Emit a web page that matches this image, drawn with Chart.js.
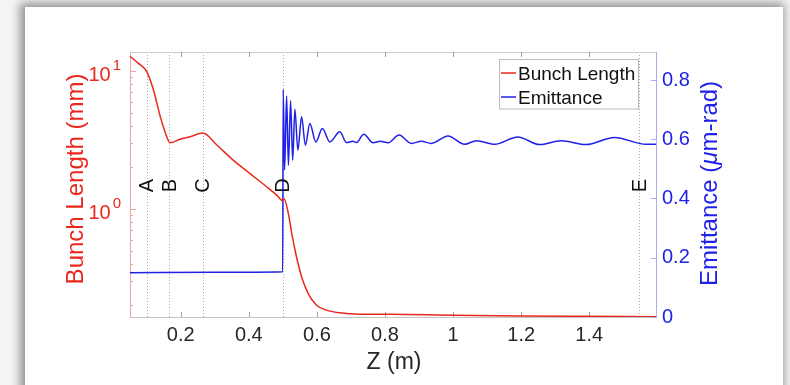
<!DOCTYPE html>
<html lang="en">
<head>
<meta charset="UTF-8">
<title>Bunch Length / Emittance</title>
<script src="https://cdn.jsdelivr.net/npm/chart.js"></script>
<style>
  body { margin: 0; width: 790px; height: 385px; overflow: hidden; position: relative; background: #f4f4f4; }
  #moldura { position: absolute; left: 25px; top: 7px; width: 758px; height: 400px; background: #fff;
             box-shadow: -2px -1px 9px 3px rgba(0, 0, 0, 0.4); }
  #grafico { position: absolute; left: 0; top: 0; }
</style>
</head>
<body>
<div id="moldura"></div>
<canvas id="grafico" width="790" height="385"></canvas>

<script>
// ---- dados ----
const zBunch = [0.051, 0.075, 0.1, 0.12, 0.14, 0.159, 0.168, 0.198, 0.227, 0.265, 0.306, 0.354, 0.403,
                0.452, 0.482, 0.499, 0.503, 0.516, 0.526, 0.540, 0.555, 0.574, 0.599, 0.628, 0.667, 0.726, 0.814,
                1.0, 1.2, 1.4, 1.596];
const bunchLength = [12.8, 11.4, 9.9, 7.28, 4.67, 3.34, 3.02, 3.2, 3.34, 3.55, 2.91, 2.26, 1.81,
                     1.45, 1.26, 1.15, 1.19, 0.93, 0.666, 0.451, 0.323, 0.245, 0.201, 0.185, 0.177, 0.173, 0.1726,
                     0.170, 0.168, 0.167, 0.166];

const zEmit = [0.051, 0.30, 0.4995, 0.501, 0.5051, 0.511, 0.5163, 0.5227, 0.5289, 0.5353, 0.5441, 0.555, 0.5661,
               0.5793, 0.5969, 0.616, 0.638, 0.6673, 0.687, 0.7054, 0.7163, 0.7377, 0.765, 0.7867, 0.809, 0.8412,
               0.8776, 0.9069, 0.9362, 0.9849, 1.0339, 1.0682, 1.1218, 1.1902, 1.2538, 1.3174, 1.3908, 1.4737,
               1.5667, 1.596];
const emittance = [0.149, 0.151, 0.153, 0.768, 0.496, 0.746, 0.512, 0.730, 0.529, 0.701, 0.563, 0.676, 0.580,
                   0.653, 0.591, 0.636, 0.591, 0.625, 0.589, 0.593, 0.589, 0.617, 0.588, 0.593, 0.588, 0.614,
                   0.586, 0.593, 0.586, 0.611, 0.583, 0.595, 0.583, 0.608, 0.582, 0.595, 0.582, 0.606,
                   0.583, 0.583];

const xTicks = [0.2, 0.4, 0.6, 0.8, 1, 1.2, 1.4];
const rightTicks = [0, 0.2, 0.4, 0.6, 0.8];
const leftTicks = [0.2, 0.3, 0.4, 0.5, 0.6, 0.7, 0.8, 0.9, 1, 2, 3, 4, 5, 6, 7, 8, 9, 10];
const leftMajor = [1, 10];

const marcadorZ = [0.1, 0.166, 0.265, 0.5, 1.547];
const marcadorTxt = ['A', 'B', 'C', 'D', 'E'];

const FONTE = '"Liberation Sans", Arial, Helvetica, sans-serif';
const VERMELHO = '#e8281e';
const AZUL = '#1f22e6';

// decoracoes no estilo matlab (ticks para dentro, legenda, rotulos)
const enfeites = {
    id: 'enfeites',
    beforeDatasetsDraw(chart) {
        const { ctx, chartArea: a, scales } = chart;
        ctx.save();
        ctx.lineWidth = 1;

        // linhas pontilhadas A..E
        ctx.strokeStyle = '#a8a8a8';
        ctx.setLineDash([1, 2]);
        marcadorZ.forEach(z => {
            const x = Math.round(scales.x.getPixelForValue(z)) + 0.5;
            ctx.beginPath(); ctx.moveTo(x, a.top); ctx.lineTo(x, a.bottom); ctx.stroke();
        });
        ctx.setLineDash([]);

        // borda de cima
        ctx.strokeStyle = '#cccccc';
        ctx.beginPath(); ctx.moveTo(a.left, a.top + 0.5); ctx.lineTo(a.right, a.top + 0.5); ctx.stroke();

        // ticks do eixo x
        ctx.strokeStyle = '#a0a0a0';
        xTicks.forEach(v => {
            const x = Math.round(scales.x.getPixelForValue(v)) + 0.5;
            ctx.beginPath();
            ctx.moveTo(x, a.bottom); ctx.lineTo(x, a.bottom - 5);
            ctx.moveTo(x, a.top); ctx.lineTo(x, a.top + 5);
            ctx.stroke();
        });

        // ticks do eixo esquerdo (log)
        ctx.strokeStyle = '#f2a4a4';
        leftTicks.forEach(v => {
            const y = Math.round(scales.yL.getPixelForValue(v)) + 0.5;
            const len = leftMajor.includes(v) ? 6 : 3;
            ctx.beginPath(); ctx.moveTo(a.left, y); ctx.lineTo(a.left + len, y); ctx.stroke();
        });

        // ticks do eixo direito
        ctx.strokeStyle = '#a8acf0';
        rightTicks.forEach(v => {
            const y = Math.round(scales.yR.getPixelForValue(v)) + 0.5;
            ctx.beginPath(); ctx.moveTo(a.right, y); ctx.lineTo(a.right - 5, y); ctx.stroke();
        });
        ctx.restore();
    },
    afterDatasetsDraw(chart) {
        const { ctx, chartArea: a, scales } = chart;
        ctx.save();

        // letras A..E
        ctx.fillStyle = '#111';
        ctx.font = '20px ' + FONTE;
        ctx.textAlign = 'center';
        ctx.textBaseline = 'middle';
        marcadorZ.forEach((z, i) => {
            const x = scales.x.getPixelForValue(z) + 1;
            ctx.save();
            ctx.translate(x, 185.5);
            ctx.rotate(-Math.PI / 2);
            ctx.fillText(marcadorTxt[i], 0, 0);
            ctx.restore();
        });

        // rotulos 10^n do eixo esquerdo
        ctx.fillStyle = VERMELHO;
        ctx.textAlign = 'left';
        ctx.textBaseline = 'alphabetic';
        leftMajor.forEach(v => {
            const y = scales.yL.getPixelForValue(v);
            ctx.font = '20px ' + FONTE;
            const w = ctx.measureText('10').width;
            ctx.fillText('10', 88.5, y + 10);
            ctx.font = '15px ' + FONTE;
            ctx.fillText(String(Math.round(Math.log10(v))), 88.5 + w + 2, y - 1);
        });

        // titulo esquerdo
        ctx.font = '24px ' + FONTE;
        ctx.textAlign = 'center';
        ctx.textBaseline = 'middle';
        ctx.save();
        ctx.translate(76, 179);
        ctx.rotate(-Math.PI / 2);
        ctx.fillText('Bunch Length (mm)', 0, 0);
        ctx.restore();

        // titulo direito com mu em italico
        ctx.fillStyle = AZUL;
        const partes = [['Emittance (', '24px '], ['\u03bc', 'italic 24px '], ['m-rad)', '24px ']];
        let total = 0;
        partes.forEach(p => { ctx.font = p[1] + FONTE; total += ctx.measureText(p[0]).width; });
        ctx.save();
        ctx.translate(710, 183.5);
        ctx.rotate(-Math.PI / 2);
        ctx.textAlign = 'left';
        let pos = -total / 2;
        partes.forEach(p => {
            ctx.font = p[1] + FONTE;
            ctx.fillText(p[0], pos, 0);
            pos += ctx.measureText(p[0]).width;
        });
        ctx.restore();

        // titulo do eixo x
        ctx.fillStyle = '#262626';
        ctx.font = '23px ' + FONTE;
        ctx.textAlign = 'center';
        ctx.fillText('Z (m)', (a.left + a.right) / 2 + 1, 363);

        // legenda
        ctx.fillStyle = '#fff';
        ctx.strokeStyle = '#bdbdbd';
        ctx.lineWidth = 1;
        ctx.fillRect(499.5, 59.5, 139, 49.5);
        ctx.strokeRect(499.5, 59.5, 139, 49.5);
        ctx.lineWidth = 1.5;
        ctx.strokeStyle = VERMELHO;
        ctx.beginPath(); ctx.moveTo(501, 73); ctx.lineTo(516, 73); ctx.stroke();
        ctx.strokeStyle = AZUL;
        ctx.beginPath(); ctx.moveTo(501, 97); ctx.lineTo(516, 97); ctx.stroke();
        ctx.fillStyle = '#111';
        ctx.font = '19px ' + FONTE;
        ctx.textAlign = 'left';
        ctx.textBaseline = 'alphabetic';
        ctx.fillText('Bunch Length', 518, 80);
        ctx.fillText('Emittance', 518, 104);

        ctx.restore();
    }
};

const dados = {
    datasets: [
        {
            label: 'Bunch Length',
            data: zBunch.map((z, i) => ({ x: z, y: bunchLength[i] })),
            yAxisID: 'yL',
            borderColor: VERMELHO,
            borderWidth: 1.5,
            pointRadius: 0,
            cubicInterpolationMode: 'monotone'
        },
        {
            label: 'Emittance',
            data: zEmit.map((z, i) => ({ x: z, y: emittance[i] })),
            yAxisID: 'yR',
            borderColor: AZUL,
            borderWidth: 1.5,
            pointRadius: 0,
            cubicInterpolationMode: 'monotone'
        }
    ]
};

const config = {
    type: 'line',
    data: dados,
    options: {
        responsive: false,
        animation: false,
        layout: { padding: { top: 52, left: 0, right: 0, bottom: 0 } },
        plugins: { legend: { display: false }, tooltip: { enabled: false } },
        scales: {
            x: {
                type: 'linear',
                min: 0.051,
                max: 1.596,
                afterBuildTicks: s => { s.ticks = xTicks.map(v => ({ value: v })); },
                afterFit: s => { s.height = 68; },
                ticks: { callback: v => String(v), color: '#262626', padding: 6, maxRotation: 0,
                         autoSkip: false, font: { family: FONTE, size: 20 } },
                grid: { display: true, drawOnChartArea: false, drawTicks: false },
                border: { display: true, color: '#c4c4c4' }
            },
            yL: {
                type: 'logarithmic',
                position: 'left',
                min: 0.165,
                max: 13.73,
                afterBuildTicks: s => { s.ticks = leftTicks.map(v => ({ value: v })); },
                afterFit: s => { s.width = 130; },
                ticks: { display: false },
                grid: { display: true, drawOnChartArea: false, drawTicks: false },
                border: { display: true, color: '#f2a4a4' }
            },
            yR: {
                type: 'linear',
                position: 'right',
                min: 0,
                max: 0.8945,
                afterBuildTicks: s => { s.ticks = rightTicks.map(v => ({ value: v })); },
                afterFit: s => { s.width = 134; },
                ticks: { callback: v => String(v), color: AZUL, padding: 6,
                         font: { family: FONTE, size: 20 } },
                grid: { display: true, drawOnChartArea: false, drawTicks: false },
                border: { display: true, color: '#a8acf0' }
            }
        }
    },
    plugins: [enfeites]
};

const myChart = new Chart(document.getElementById('grafico'), config);
</script>
</body>
</html>
